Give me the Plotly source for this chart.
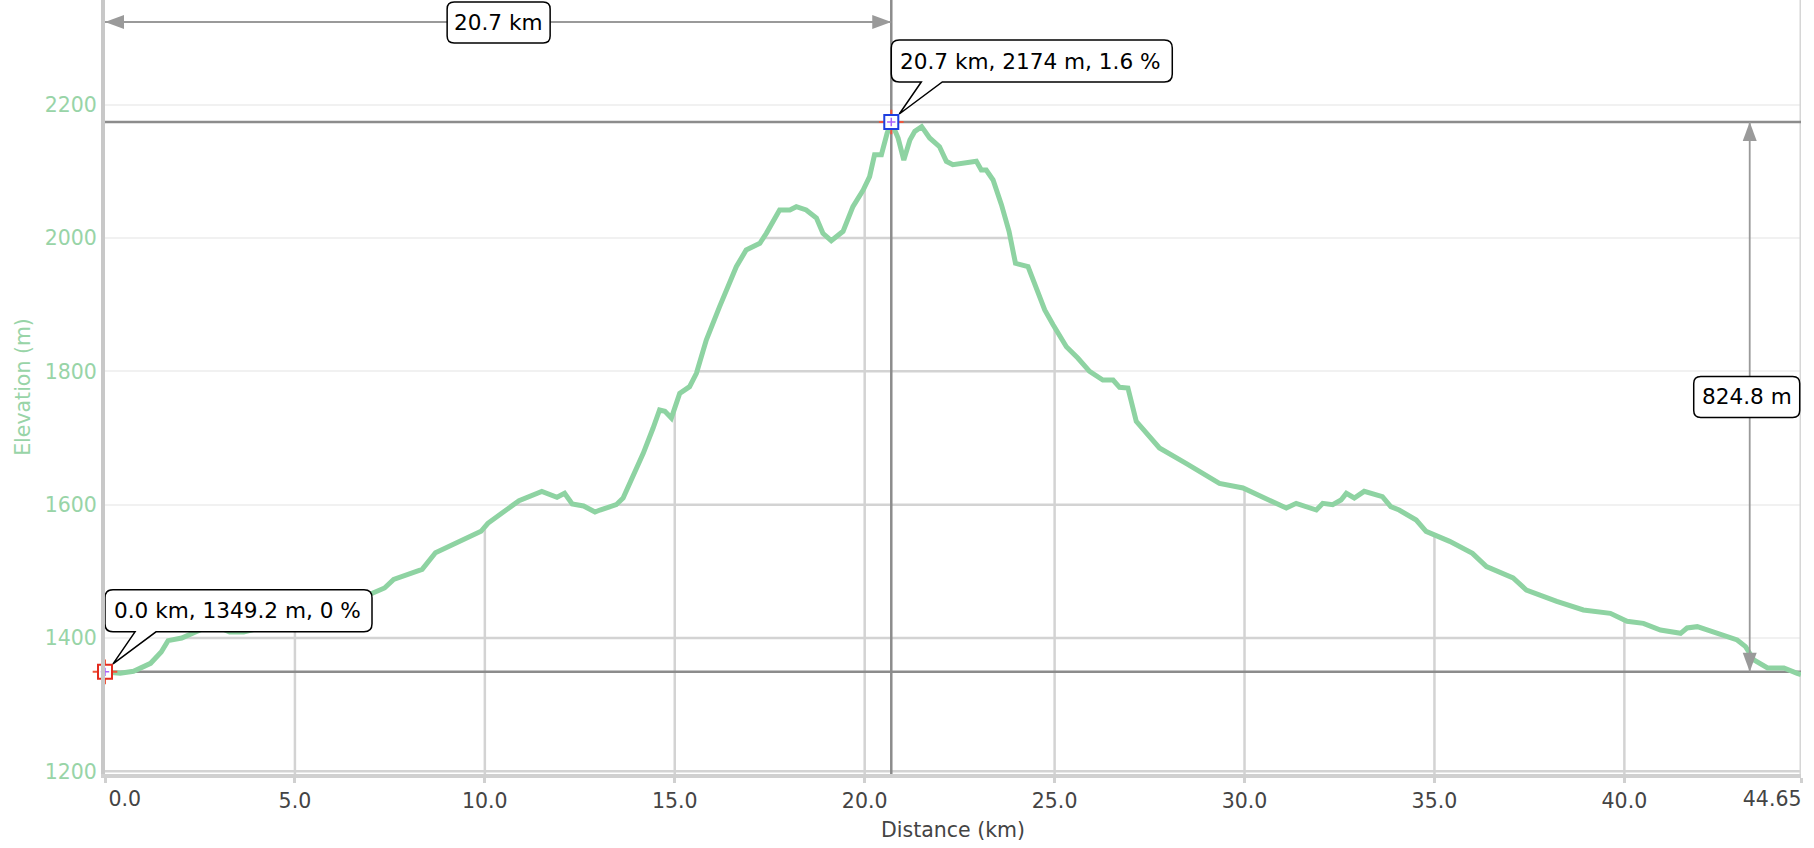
import numpy as np
import plotly.graph_objects as go

# ---------------- data ----------------
distance_km = [0.0, 0.4, 0.75, 1.2, 1.48, 1.66, 2.02, 2.38, 2.74, 3.0, 3.28, 3.65, 4.1, 4.55, 5.28,
               6.18, 7.0, 7.36, 7.6, 8.35, 8.7, 9.35, 9.9, 10.08, 10.5, 10.9, 11.5, 11.9, 12.1, 12.3,
               12.6, 12.9, 13.03, 13.46, 13.64, 13.9, 14.17, 14.43, 14.6, 14.74, 14.91, 15.13, 15.39,
               15.57, 15.83, 16.18, 16.62, 16.88, 17.24, 17.41, 17.76, 18.03, 18.2, 18.46, 18.73, 18.9,
               19.12, 19.43, 19.69, 19.96, 20.13, 20.26, 20.44, 20.59, 20.7, 20.88, 21.03, 21.19, 21.32,
               21.5, 21.71, 21.97, 22.15, 22.32, 22.59, 22.94, 23.07, 23.2, 23.38, 23.6, 23.8, 23.97,
               24.3, 24.52, 24.74, 24.96, 25.31, 25.61, 25.92, 26.27, 26.54, 26.71, 26.93, 27.15, 27.59,
               27.76, 28.46, 29.08, 29.34, 29.96, 30.57, 31.1, 31.36, 31.89, 32.06, 32.32, 32.54, 32.68,
               32.89, 33.15, 33.63, 33.85, 34.07, 34.52, 34.78, 35.4, 36.0, 36.37, 37.07, 37.42, 38.22,
               38.92, 39.63, 40.07, 40.5, 40.95, 41.48, 41.65, 41.92, 42.27, 42.97, 43.19, 43.41, 43.77,
               44.2, 44.55, 44.65]
elevation_m = [1349.2, 1347, 1350, 1362, 1379, 1396, 1400, 1408, 1418, 1416, 1409, 1409, 1416, 1423, 1433,
               1446, 1466, 1475, 1488, 1503, 1528, 1545, 1560, 1572, 1589, 1606, 1620, 1611, 1617, 1601,
               1598, 1589, 1592, 1600, 1610, 1642, 1677, 1715, 1742, 1740, 1730, 1767, 1777,
               1797, 1847, 1897, 1957, 1982, 1992, 2007, 2042, 2042, 2047, 2042, 2030, 2007,
               1996, 2010, 2047, 2072, 2092, 2125, 2125, 2157, 2174, 2150, 2117, 2147, 2160,
               2167, 2150, 2137, 2115, 2110, 2112, 2115, 2102, 2102, 2087, 2050, 2010, 1962,
               1957, 1925, 1892, 1870, 1837, 1820, 1800, 1787, 1787, 1776, 1775, 1725, 1697,
               1685, 1662, 1642, 1632, 1625, 1610, 1595, 1602, 1592, 1602, 1600, 1607, 1617,
               1610, 1620, 1612, 1597, 1592, 1577, 1560, 1545, 1527, 1507, 1490, 1472, 1455,
               1442, 1437, 1425, 1422, 1412, 1407, 1415, 1417, 1410, 1397, 1387, 1367, 1355,
               1355, 1347, 1345]

x_tick_vals = [0, 5, 10, 15, 20, 25, 30, 35, 40, 44.65]
x_tick_text = ["0.0", "5.0", "10.0", "15.0", "20.0", "25.0", "30.0", "35.0", "40.0", "44.65"]
y_tick_vals = [1200, 1400, 1600, 1800, 2000, 2200]

start_km, start_elev, start_grade = 0.0, 1349.2, 0
peak_km, peak_elev, peak_grade = 20.7, 2174, 1.6

# ---------------- styling constants ----------------
X_RANGE = [0, 44.65]
Y_RANGE = [1196, 2357]
FONT = "DejaVu Sans"
LINE_GREEN = "#8ed3a2"
LABEL_GREEN = "#98d4a7"
GRID_DARK = "#d3d3d3"
REF_GREY = "#8c8c8c"
DIM_GREY = "#9a9a9a"
AXIS_GREY = "#d0d0d0"
DIM_ARROW_X = 43.3

d = np.array(distance_km, dtype=float)
e = np.array(elevation_m, dtype=float)


def runs_above(level):
    segs, start = [], None
    for i in range(len(d)):
        up = e[i] >= level
        if up and start is None:
            if i == 0:
                start = d[0]
            else:
                t = (level - e[i - 1]) / (e[i] - e[i - 1])
                start = d[i - 1] + t * (d[i] - d[i - 1])
        elif not up and start is not None:
            t = (level - e[i - 1]) / (e[i] - e[i - 1])
            segs.append((start, d[i - 1] + t * (d[i] - d[i - 1])))
            start = None
    if start is not None:
        segs.append((start, d[-1]))
    return segs


shapes = []
# darker grid, only below the profile
for lvl in y_tick_vals:
    for a, b in runs_above(lvl):
        shapes.append(dict(type="line", xref="x", yref="y", x0=a, x1=b, y0=lvl, y1=lvl,
                           layer="between", line=dict(color=GRID_DARK, width=2.5)))
for tv in x_tick_vals[1:-1]:
    shapes.append(dict(type="line", xref="x", yref="y", x0=tv, x1=tv, y0=Y_RANGE[0],
                       y1=float(np.interp(tv, d, e)), layer="between",
                       line=dict(color=GRID_DARK, width=2.5)))
# right frame line
shapes.append(dict(type="line", xref="x", yref="y", x0=X_RANGE[1], x1=X_RANGE[1],
                   y0=Y_RANGE[0], y1=Y_RANGE[1], layer="between",
                   line=dict(color="#d6d6d6", width=3)))
# reference lines through the two marked points
shapes.append(dict(type="line", xref="x", yref="y", x0=peak_km, x1=peak_km,
                   y0=Y_RANGE[0], y1=Y_RANGE[1], layer="between",
                   line=dict(color=REF_GREY, width=2.5)))
for yv in (peak_elev, start_elev):
    shapes.append(dict(type="line", xref="x", yref="y", x0=X_RANGE[0], x1=X_RANGE[1], y0=yv, y1=yv,
                       layer="between", line=dict(color=REF_GREY, width=2.5)))

# horizontal distance dimension (22 px below the top)
shapes.append(dict(type="line", xref="x", yref="y domain", ysizemode="pixel", yanchor=1,
                   x0=start_km, x1=peak_km, y0=-22, y1=-22, layer="above",
                   line=dict(color=DIM_GREY, width=2)))
shapes.append(dict(type="path", xref="x", yref="y domain", xsizemode="pixel", ysizemode="pixel",
                   xanchor=start_km, yanchor=1, path="M0,-22 L19,-15 L19,-29 Z", layer="above",
                   fillcolor=DIM_GREY, line=dict(width=0)))
shapes.append(dict(type="path", xref="x", yref="y domain", xsizemode="pixel", ysizemode="pixel",
                   xanchor=peak_km, yanchor=1, path="M0,-22 L-19,-15 L-19,-29 Z", layer="above",
                   fillcolor=DIM_GREY, line=dict(width=0)))
# vertical climb dimension
shapes.append(dict(type="line", xref="x", yref="y", x0=DIM_ARROW_X, x1=DIM_ARROW_X,
                   y0=start_elev, y1=peak_elev, layer="above", line=dict(color=DIM_GREY, width=1.8)))
shapes.append(dict(type="path", xref="x", yref="y", xsizemode="pixel", ysizemode="pixel",
                   xanchor=DIM_ARROW_X, yanchor=peak_elev, path="M0,0 L-7,-19 L7,-19 Z",
                   layer="above", fillcolor=DIM_GREY, line=dict(width=0)))
shapes.append(dict(type="path", xref="x", yref="y", xsizemode="pixel", ysizemode="pixel",
                   xanchor=DIM_ARROW_X, yanchor=start_elev, path="M0,0 L-7,19 L7,19 Z",
                   layer="above", fillcolor=DIM_GREY, line=dict(width=0)))


def rrect(x0, y0, x1, y1, r):
    return (f"M{x0 + r},{y0} L{x1 - r},{y0} Q{x1},{y0} {x1},{y0 + r} L{x1},{y1 - r} "
            f"Q{x1},{y1} {x1 - r},{y1} L{x0 + r},{y1} Q{x0},{y1} {x0},{y1 - r} "
            f"L{x0},{y0 + r} Q{x0},{y0} {x0 + r},{y0} Z")


def bubble(w, r=8):
    return (f"M30,40 L8,8 L51,40 L{w - r},40 Q{w},40 {w},{40 + r} L{w},{82 - r} "
            f"Q{w},82 {w - r},82 L{r},82 Q0,82 0,{82 - r} L0,{40 + r} Q0,40 {r},40 Z")


box_line = dict(color="black", width=1.5)
mid_km = (start_km + peak_km) / 2
mid_elev = (start_elev + peak_elev) / 2
shapes.append(dict(type="path", xref="x", yref="y domain", xsizemode="pixel", ysizemode="pixel",
                   xanchor=mid_km, yanchor=1, path=rrect(-51, -43, 52, -2, 7), layer="above",
                   fillcolor="white", line=box_line))
shapes.append(dict(type="path", xref="x", yref="y", xsizemode="pixel", ysizemode="pixel",
                   xanchor=DIM_ARROW_X, yanchor=mid_elev, path=rrect(-56, -20.5, 50, 20.5, 7),
                   layer="above", fillcolor="white", line=box_line))
shapes.append(dict(type="path", xref="x", yref="y", xsizemode="pixel", ysizemode="pixel",
                   xanchor=start_km, yanchor=start_elev, path=bubble(267), layer="above",
                   fillcolor="white", line=box_line))
shapes.append(dict(type="path", xref="x", yref="y", xsizemode="pixel", ysizemode="pixel",
                   xanchor=peak_km, yanchor=peak_elev, path=bubble(281), layer="above",
                   fillcolor="white", line=box_line))

txt_font = dict(family=FONT, size=21.6, color="black")
annotations = [
    dict(x=mid_km, y=1, xref="x", yref="y domain", yshift=-22, showarrow=False,
         text=f"{peak_km - start_km:.1f} km", font=txt_font, xanchor="center", yanchor="middle",
         borderpad=0, borderwidth=0),
    dict(x=DIM_ARROW_X, y=mid_elev, xref="x", yref="y", xshift=-3, showarrow=False,
         text=f"{peak_elev - start_elev:.1f} m", font=txt_font, xanchor="center", yanchor="middle",
         borderpad=0, borderwidth=0),
    dict(x=start_km, y=start_elev, xref="x", yref="y", xshift=9, yshift=61, showarrow=False,
         text=f"{start_km:.1f} km, {start_elev:.1f} m, {start_grade} %", font=txt_font,
         xanchor="left", yanchor="middle", borderpad=0, borderwidth=0),
    dict(x=peak_km, y=peak_elev, xref="x", yref="y", xshift=9, yshift=61, showarrow=False,
         text=f"{peak_km} km, {peak_elev} m, {peak_grade} %", font=txt_font,
         xanchor="left", yanchor="middle", borderpad=0, borderwidth=0),
]

fig = go.Figure()
fig.add_trace(go.Scatter(x=distance_km, y=elevation_m, mode="lines",
                         line=dict(color=LINE_GREEN, width=5), hoverinfo="skip"))
mk_x = [start_km, peak_km]
mk_y = [start_elev, peak_elev]
mk_col = ["#e32b1e", "#1f3fe0"]
fig.add_trace(go.Scatter(x=mk_x, y=mk_y, mode="markers", cliponaxis=False, hoverinfo="skip",
                         marker=dict(symbol="cross-thin-open", size=17.6,
                                     line=dict(color=mk_col, width=2))))
fig.add_trace(go.Scatter(x=mk_x, y=mk_y, mode="markers", cliponaxis=False, hoverinfo="skip",
                         marker=dict(symbol="square", size=14, color="white",
                                     line=dict(color=mk_col, width=2))))
fig.add_trace(go.Scatter(x=mk_x, y=mk_y, mode="markers", cliponaxis=False, hoverinfo="skip",
                         marker=dict(symbol="cross-thin-open", size=6,
                                     line=dict(color="#888888", width=1.5))))
# empty carriers for the two end-label axes
fig.add_trace(go.Scatter(x=[None], y=[None], xaxis="x2", mode="markers", hoverinfo="skip"))
fig.add_trace(go.Scatter(x=[None], y=[None], xaxis="x3", mode="markers", hoverinfo="skip"))

tick_font = dict(family=FONT, size=20.5, color="#444444")
# middle tick labels on the main axis; the two end labels are aligned inward on overlay axes
main_text = [""] + x_tick_text[1:-1] + [""]
end_axis_common = dict(range=X_RANGE, overlaying="x", anchor="y", side="bottom",
                       tickmode="array", showgrid=False, zeroline=False,
                       showline=True, linecolor="rgba(0,0,0,0)", linewidth=4,
                       ticks="outside", ticklen=5, tickwidth=3, tickcolor=AXIS_GREY,
                       ticklabelstandoff=3,
                       tickfont=tick_font, automargin=False, fixedrange=True)

fig.update_layout(
    width=1814, height=848,
    margin=dict(l=105, r=13, t=0, b=74, pad=0),
    paper_bgcolor="white", plot_bgcolor="white",
    showlegend=False,
    shapes=shapes, annotations=annotations,
    font=dict(family=FONT),
    xaxis=dict(range=X_RANGE, tickmode="array", tickvals=x_tick_vals, ticktext=main_text,
               showgrid=False, zeroline=False, showline=True, linecolor=AXIS_GREY, linewidth=4,
               ticks="outside", ticklen=5, tickwidth=3, tickcolor=AXIS_GREY,
               tickfont=tick_font,
               title=dict(text="Distance (km)", font=dict(family=FONT, size=20.5, color="#444444"),
                          standoff=12),
               automargin=False, fixedrange=True),
    xaxis2=dict(tickvals=x_tick_vals[:1], ticktext=x_tick_text[:1],
                ticklabelposition="outside right", **end_axis_common),
    xaxis3=dict(tickvals=x_tick_vals[-1:], ticktext=x_tick_text[-1:],
                ticklabelposition="outside left", ticklabelshift=4, **end_axis_common),
    yaxis=dict(range=Y_RANGE, tickmode="array", tickvals=y_tick_vals,
               showgrid=True, gridcolor="#f1f1f1", gridwidth=2, zeroline=False,
               showline=True, linecolor="#c8c8c8", linewidth=4, ticks="",
               tickfont=dict(family=FONT, size=20.5, color=LABEL_GREEN),
               title=dict(text="Elevation (m)", font=dict(family=FONT, size=20.5, color=LABEL_GREEN),
                          standoff=10),
               automargin=False, fixedrange=True),
)

fig.write_html("out.html", config={"displayModeBar": False},
               post_script="document.body.style.margin='0';")
